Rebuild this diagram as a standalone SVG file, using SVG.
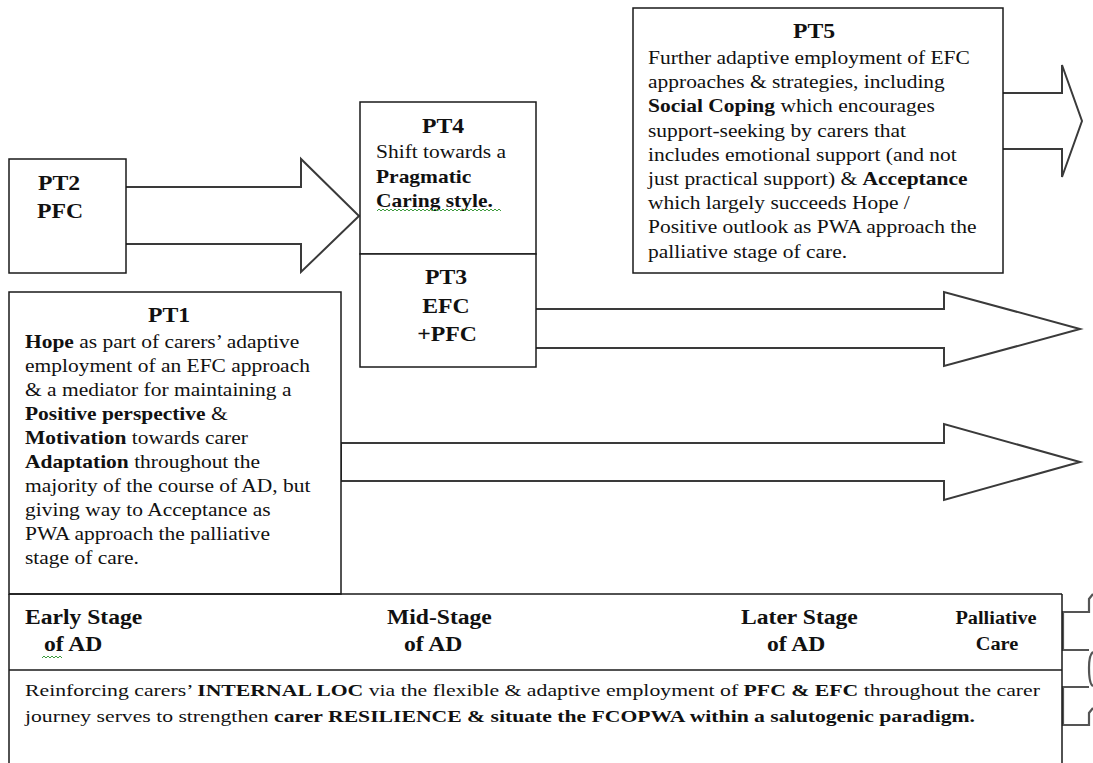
<svg xmlns="http://www.w3.org/2000/svg" width="1093" height="763" viewBox="0 0 1093 763">
<style>
.box{fill:#fff;stroke:#1a1a1a;stroke-width:1.5}
.arrow{fill:#fff;stroke:#3a3a3a;stroke-width:2;stroke-linejoin:miter}
.t{font-family:'Liberation Serif','Times New Roman','DejaVu Serif',serif;fill:#111}
.b{font-size:19px}
.h{font-size:21px;font-weight:bold}
.bold{font-weight:bold}
.s{font-size:20px;font-weight:bold}
.p{font-size:18px;font-weight:bold}
.f{font-size:17px}
.sq{fill:none;stroke:#3c9a3c;stroke-width:1}
.line{stroke:#1a1a1a;stroke-width:1.5;fill:none}
.brk{fill:none;stroke:#555;stroke-width:2.2}
</style>
<rect width="1093" height="763" fill="#fff"/>

<g id="connectors">
  <polygon class="arrow" points="125,187 301,187 301,159 359,216 301,272 301,244 125,244"/>
  <polygon class="arrow" points="535,309 944,309 944,292 1080,329 944,366 944,348 535,348"/>
  <polygon class="arrow" points="341,443 944,443 944,424 1080,462 944,500 944,481 341,481"/>
  <polygon class="arrow" points="1002,93 1062,93 1062,65 1082,121 1062,177 1062,149 1002,149"/>
  <path class="brk" d="M1093,594 L1089,599 V612 H1063 V650 H1089"/>
  <path class="brk" d="M1093,652 Q1089,655 1089,668 Q1089,684 1093,686"/>
  <path class="brk" d="M1089,687 H1063 V725 H1089 V713 L1093,708"/>
</g>

<g font-family="Liberation Serif, Times New Roman, serif">
<g id="PT2">
  <rect class="box" x="9" y="159" width="117" height="114"/>
  <text class="t h" text-anchor="middle" transform="translate(59,190) scale(1.13,1)">PT2</text>
  <text class="t h" text-anchor="middle" transform="translate(60,218) scale(1.13,1)">PFC</text>
</g>

<g id="PT4">
  <rect class="box" x="360" y="102" width="176" height="152"/>
  <text class="t h" text-anchor="middle" transform="translate(443,133) scale(1.13,1)">PT4</text>
  <text class="t b" transform="translate(376,158) scale(1.13,1)">Shift towards a</text>
  <text class="t b bold" transform="translate(376,182.5) scale(1.13,1)">Pragmatic</text>
  <text class="t b bold" transform="translate(376,207) scale(1.13,1)">Caring style.</text>
  <path class="sq" d="M377,211 l2,-2 l2,2 l2,-2 l2,2 l2,-2 l2,2 l2,-2 l2,2 l2,-2 l2,2 l2,-2 l2,2 l2,-2 l2,2 l2,-2 l2,2 l2,-2 l2,2 l2,-2 l2,2 l2,-2 l2,2 l2,-2 l2,2 l2,-2 l2,2 l2,-2 l2,2 l2,-2 l2,2 l2,-2 l2,2 l2,-2 l2,2 l2,-2 l2,2 l2,-2 l2,2 l2,-2 l2,2 l2,-2 l2,2 l2,-2 l2,2 l2,-2 l2,2 l2,-2 l2,2 l2,-2 l2,2 l2,-2 l2,2 l2,-2 l2,2 l2,-2 l2,2 l2,-2 l2,2 l2,-2 l2,2 l2,-2 l2,2"/>
</g>

<g id="PT3">
  <rect class="box" x="360" y="254" width="176" height="113"/>
  <text class="t h" text-anchor="middle" transform="translate(446,284) scale(1.13,1)">PT3</text>
  <text class="t h" text-anchor="middle" transform="translate(446,313) scale(1.13,1)">EFC</text>
  <text class="t h" text-anchor="middle" transform="translate(447,341) scale(1.13,1)">+PFC</text>
</g>

<g id="PT5">
  <rect class="box" x="633" y="8" width="370" height="265"/>
  <text class="t h" text-anchor="middle" transform="translate(814,38) scale(1.13,1)">PT5</text>
  <text class="t b" transform="translate(648,64) scale(1.13,1)">Further adaptive employment of EFC</text>
  <text class="t b" transform="translate(648,88.2) scale(1.13,1)">approaches &amp; strategies, including</text>
  <text class="t b" transform="translate(648,112.4) scale(1.13,1)"><tspan class="bold">Social Coping</tspan> which encourages</text>
  <text class="t b" transform="translate(648,136.6) scale(1.13,1)">support-seeking by carers that</text>
  <text class="t b" transform="translate(648,160.8) scale(1.13,1)">includes emotional support (and not</text>
  <text class="t b" transform="translate(648,185) scale(1.13,1)">just practical support) &amp; <tspan class="bold">Acceptance</tspan></text>
  <text class="t b" transform="translate(648,209.2) scale(1.13,1)">which largely succeeds Hope /</text>
  <text class="t b" transform="translate(648,233.4) scale(1.13,1)">Positive outlook as PWA approach the</text>
  <text class="t b" transform="translate(648,257.6) scale(1.13,1)">palliative stage of care.</text>
</g>

<g id="PT1">
  <rect class="box" x="9" y="292" width="332" height="302"/>
  <text class="t h" text-anchor="middle" transform="translate(169,322) scale(1.13,1)">PT1</text>
  <text class="t b" transform="translate(25,348) scale(1.13,1)"><tspan class="bold">Hope</tspan> as part of carers’ adaptive</text>
  <text class="t b" transform="translate(25,372) scale(1.13,1)">employment of an EFC approach</text>
  <text class="t b" transform="translate(25,396) scale(1.13,1)">&amp; a mediator for maintaining a</text>
  <text class="t b" transform="translate(25,420) scale(1.13,1)"><tspan class="bold">Positive perspective</tspan> &amp;</text>
  <text class="t b" transform="translate(25,444) scale(1.13,1)"><tspan class="bold">Motivation</tspan> towards carer</text>
  <text class="t b" transform="translate(25,468) scale(1.13,1)"><tspan class="bold">Adaptation</tspan> throughout the</text>
  <text class="t b" transform="translate(25,492) scale(1.13,1)">majority of the course of AD, but</text>
  <text class="t b" transform="translate(25,516) scale(1.13,1)">giving way to Acceptance as</text>
  <text class="t b" transform="translate(25,540) scale(1.13,1)">PWA approach the palliative</text>
  <text class="t b" transform="translate(25,564) scale(1.13,1)">stage of care.</text>
</g>

<g id="stages">
  <path class="line" d="M9,594 H1062 M9,594 V763 M1062,594 V763 M9,670 H1062"/>
  <text class="t s" transform="translate(25,624) scale(1.18,1)">Early Stage</text>
  <text class="t s" transform="translate(44,651) scale(1.18,1)">of AD</text>
  <path class="sq" d="M42,658 l2,-2 l2,2 l2,-2 l2,2 l2,-2 l2,2 l2,-2 l2,2 l2,-2 l2,2"/>
  <text class="t s" transform="translate(387,624) scale(1.18,1)">Mid-Stage</text>
  <text class="t s" transform="translate(404,651) scale(1.18,1)">of AD</text>
  <text class="t s" transform="translate(741,624) scale(1.18,1)">Later Stage</text>
  <text class="t s" transform="translate(767,651) scale(1.18,1)">of AD</text>
  <text class="t p" text-anchor="middle" transform="translate(996,624) scale(1.13,1)">Palliative</text>
  <text class="t p" text-anchor="middle" transform="translate(997,650) scale(1.13,1)">Care</text>
</g>

<g id="summary">
  <text class="t f" x="25" y="696" textLength="1015" lengthAdjust="spacingAndGlyphs">Reinforcing carers’ <tspan class="bold">INTERNAL LOC</tspan> via the flexible &amp; adaptive employment of <tspan class="bold">PFC &amp; EFC</tspan> throughout the carer</text>
  <text class="t f" x="25" y="722" textLength="950" lengthAdjust="spacingAndGlyphs">journey serves to strengthen <tspan class="bold">carer RESILIENCE &amp; situate the FCOPWA within a salutogenic paradigm.</tspan></text>
</g>
</g>
</svg>
